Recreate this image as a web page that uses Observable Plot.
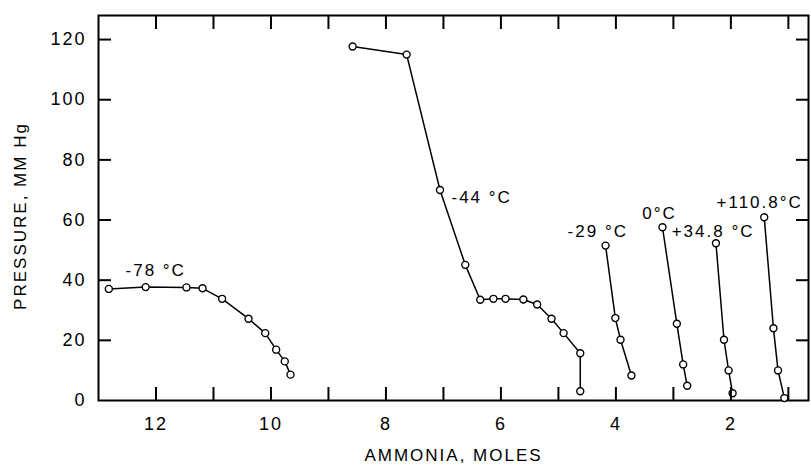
<!DOCTYPE html>
<html>
<head>
<meta charset="utf-8">
<script src="https://cdn.jsdelivr.net/npm/d3@7"></script>
<script src="https://cdn.jsdelivr.net/npm/@observablehq/plot@0.6"></script>
<style>html, body { margin: 0; padding: 0; background: #fff; } .p { display: block; width: 811px; height: 466px; overflow: hidden; } .p svg { display: block; }</style>
</head>
<body>
<script>
// ---- data ----
const seriesNames = ["-78 °C", "-44 °C", "-29 °C", "0°C", "+34.8 °C", "+110.8°C"];

const ammoniaM78 = [12.82, 12.18, 11.47, 11.19, 10.85, 10.39, 10.10, 9.91, 9.76, 9.66];
const pressureM78 = [37.1, 37.7, 37.6, 37.3, 33.8, 27.2, 22.4, 16.9, 13.0, 8.6];

const ammoniaM44 = [8.58, 7.64, 7.06, 6.62, 6.36, 6.13, 5.92, 5.61, 5.37, 5.12, 4.91, 4.62, 4.62];
const pressureM44 = [117.7, 115.0, 70.0, 45.1, 33.5, 33.8, 33.8, 33.6, 31.9, 27.2, 22.4, 15.7, 3.1];

const ammoniaM29 = [4.18, 4.01, 3.92, 3.73];
const pressureM29 = [51.5, 27.4, 20.2, 8.3];

const ammonia0 = [3.19, 2.94, 2.83, 2.76];
const pressure0 = [57.6, 25.5, 12.0, 4.9];

const ammoniaP348 = [2.26, 2.12, 2.04, 1.97];
const pressureP348 = [52.3, 20.2, 10.0, 2.4];

const ammoniaP1108 = [1.42, 1.26, 1.18, 1.07];
const pressureP1108 = [60.9, 24.0, 10.0, 0.8];

// label anchor points (data units)
const labelAmmonia = [12.53, 6.86, 4.84, 3.54, 3.03, 2.25];
const labelPressure = [43.2, 67.6, 56.3, 62.2, 56.2, 65.9];

const xTickLabels = [12, 10, 8, 6, 4, 2];
const xMinorTicks = [12, 11, 10, 9, 8, 7, 6, 5, 4, 3, 2, 1];
const yTickLabels = [0, 20, 40, 60, 80, 100, 120];
const yMinorTicks = [20, 40, 60, 80, 100, 120];

const xTitle = "AMMONIA, MOLES";
const yTitle = "PRESSURE, MM Hg";

// ---- build table ----
const xs = [ammoniaM78, ammoniaM44, ammoniaM29, ammonia0, ammoniaP348, ammoniaP1108];
const ys = [pressureM78, pressureM44, pressureM29, pressure0, pressureP348, pressureP1108];
const points = [];
seriesNames.forEach((s, i) => xs[i].forEach((x, j) => points.push({series: s, ammonia: x, pressure: ys[i][j]})));
const labels = seriesNames.map((s, i) => ({text: s, ammonia: labelAmmonia[i], pressure: labelPressure[i]}));

const inward = {tickSize: -13, tickFormat: () => "", label: null, stroke: "black", strokeWidth: 2};

const ticks = () => [
  Plot.axisX({anchor: "bottom", ticks: xMinorTicks, ...inward}),
  Plot.axisX({anchor: "top", ticks: xMinorTicks, ...inward}),
  Plot.axisY({anchor: "left", ticks: yMinorTicks, ...inward}),
  Plot.axisY({anchor: "right", ticks: yMinorTicks, ...inward})
];
const tickLabels = () => [
  Plot.axisX({ticks: xTickLabels, tickSize: 0, tickPadding: 17, fontSize: 18, label: null}),
  Plot.axisY({ticks: yTickLabels, tickSize: 0, tickPadding: 12, fontSize: 18, label: null})
];
const frame = () => [Plot.frame({stroke: "#000", strokeWidth: 2})];
const series = () => [
  Plot.line(points, {x: "ammonia", y: "pressure", z: "series", stroke: "#000", strokeWidth: 1.5}),
  Plot.dot(points, {x: "ammonia", y: "pressure", r: 3.5, fill: "#fff", stroke: "#000", strokeWidth: 1.4})
];
const texts = () => [
  Plot.text(labels, {x: "ammonia", y: "pressure", text: "text", textAnchor: "start", lineAnchor: "middle", fontSize: 17, fill: "#000"}),
  Plot.text([xTitle], {frameAnchor: "bottom", textAnchor: "middle", dy: 55, fontSize: 17, fill: "#000", lineAnchor: "middle"}),
  Plot.text([yTitle], {frameAnchor: "left", textAnchor: "middle", dx: -78, dy: 8, rotate: -90, fontSize: 17, fill: "#000", lineAnchor: "middle"})
];

const d = document.createElement("div");
d.className = "p";
d.appendChild(Plot.plot({
  width: 811,
  height: 466,
  marginTop: 15,
  marginBottom: 66,
  marginLeft: 98,
  marginRight: 3,
  style: {fontFamily: "Liberation Sans", color: "#000", background: "#fff", letterSpacing: "2px"},
  x: {domain: [13, 0.65]},
  y: {domain: [0, 128]},
  marks: [...tickLabels(), ...frame(), ...series(), ...texts(), ...ticks()]
}));
document.body.appendChild(d);
</script>
</body>
</html>
